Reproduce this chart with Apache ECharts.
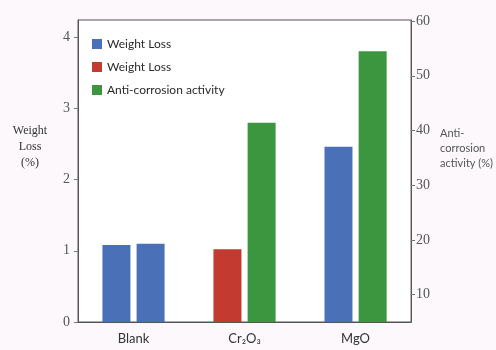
<!DOCTYPE html>
<html>
<head>
<meta charset="utf-8">
<script src="https://cdn.jsdelivr.net/npm/echarts@6/dist/echarts.min.js"></script>
<style>
  html, body { margin: 0; padding: 0; background: #fcf8fc; }
  #chart { width: 496px; height: 350px; }
</style>
</head>
<body>
<div id="chart"></div>
<script>
// Samples along the x axis
const categories = ['Blank', 'Cr\u2082O\u2083', 'MgO'];

// Weight loss (%) — left axis. First bar slot per sample.
const weightLossBlue = [1.08, '-', 2.46];
const weightLossRed = ['-', 1.02, '-'];
// Second bar slot: repeat weight loss for the blank, left axis
const weightLossBlank2 = [1.10, '-', '-'];
// Anti-corrosion activity (%) — right axis, second bar slot
const antiCorrosion = ['-', 41.4, 54.5];

// Tick labels
const leftTicks = [0, 1, 2, 3, 4];
const rightTicks = [10, 20, 30, 40, 50, 60];

const BLUE = '#4a70b8';
const RED = '#c33a30';
const GREEN = '#3c953f';

const nameBlue = 'Weight Loss';
const nameRed = 'Weight Loss (Cr\u2082O\u2083)';
const nameGreen = 'Anti-corrosion activity';

const chart = echarts.init(document.getElementById('chart'));

const axisLineStyle = { color: '#555', width: 1 };

chart.setOption({
  backgroundColor: '#fcf8fc',
  animation: false,
  grid: {
    left: 78, right: 78, top: 20, bottom: 28,
    show: true, backgroundColor: '#ffffff',
    borderColor: '#555', borderWidth: 1
  },
  legend: {
    orient: 'vertical',
    left: 87, top: 33,
    icon: 'rect',
    itemWidth: 10, itemHeight: 10, itemGap: 11,
    data: [nameBlue, nameRed, nameGreen],
    formatter: n => n.indexOf('Weight Loss') === 0 ? 'Weight Loss' : n,
    textStyle: { fontFamily: 'Lato', fontSize: 12, color: '#2a2a2a' }
  },
  xAxis: {
    type: 'category',
    data: categories,
    axisTick: { show: false },
    axisLine: { lineStyle: axisLineStyle },
    axisLabel: { fontFamily: 'Lato', fontSize: 13, color: '#333', margin: 10 }
  },
  yAxis: [
    {
      type: 'value', min: 0, max: 4.24, position: 'left',
      splitLine: { show: false },
      axisLine: { show: true, lineStyle: axisLineStyle },
      axisTick: { show: true, length: 4, lineStyle: { color: '#777' }, customValues: leftTicks },
      axisLabel: {
        customValues: leftTicks,
        fontFamily: 'Liberation Serif', fontSize: 14, color: '#555', margin: 8
      },
      name: 'Weight\nLoss\n(%)',
      nameLocation: 'middle', nameRotate: 0, nameGap: 48,
      nameTextStyle: {
        fontFamily: 'Liberation Serif', fontSize: 12, color: '#333',
        align: 'center', verticalAlign: 'bottom', lineHeight: 16
      }
    },
    {
      type: 'value', min: 5, max: 60.2, position: 'right',
      splitLine: { show: false },
      axisLine: { show: true, lineStyle: axisLineStyle },
      axisTick: { show: true, length: 4, lineStyle: { color: '#777' }, customValues: rightTicks },
      axisLabel: {
        customValues: rightTicks,
        fontFamily: 'Liberation Serif', fontSize: 14, color: '#555', margin: 5
      },
      name: 'Anti-\ncorrosion\nactivity (%)',
      nameLocation: 'middle', nameRotate: 0, nameGap: 29,
      nameTextStyle: {
        fontFamily: 'Lato', fontSize: 11, color: '#555',
        align: 'left', verticalAlign: 'bottom', lineHeight: 15
      }
    }
  ],
  series: [
    {
      name: nameBlue, type: 'bar', stack: 'first', yAxisIndex: 0,
      data: weightLossBlue, barWidth: 28, barGap: '22%', clip: true,
      itemStyle: { color: BLUE }
    },
    {
      name: nameRed, type: 'bar', stack: 'first', yAxisIndex: 0,
      data: weightLossRed, barWidth: 28, barGap: '22%', clip: true,
      itemStyle: { color: RED }
    },
    {
      name: nameBlue, type: 'bar', stack: 'second', yAxisIndex: 0,
      data: weightLossBlank2, barWidth: 28, barGap: '22%', clip: true,
      itemStyle: { color: BLUE }
    },
    {
      name: nameGreen, type: 'bar', stack: 'second', yAxisIndex: 1,
      data: antiCorrosion, barWidth: 28, barGap: '22%', clip: true,
      itemStyle: { color: GREEN }
    }
  ]
});
</script>
</body>
</html>
